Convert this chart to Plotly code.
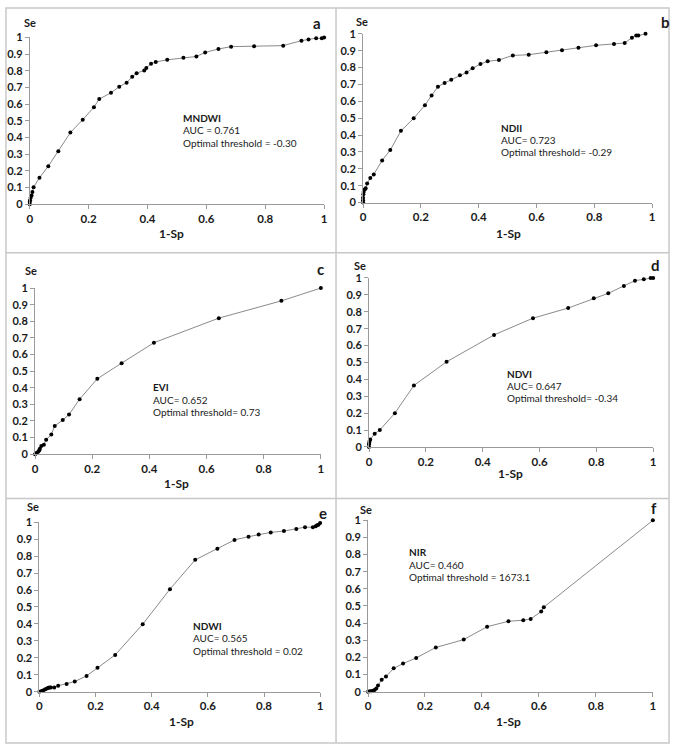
import plotly.graph_objects as go

W, H = 675, 754

# ---------------- data (1-Sp, Se) ----------------
mndwi_x = [0, 0, 0.001, 0.003, 0.006, 0.009, 0.013, 0.033, 0.063, 0.097, 0.138, 0.180, 0.218, 0.236,
           0.276, 0.304, 0.329, 0.348, 0.363, 0.389, 0.396, 0.412, 0.428, 0.467, 0.522, 0.566, 0.596,
           0.641, 0.684, 0.762, 0.861, 0.923, 0.947, 0.973, 0.992, 1.0]
mndwi_y = [0, 0.014, 0.024, 0.039, 0.053, 0.073, 0.102, 0.159, 0.228, 0.318, 0.430, 0.507, 0.582, 0.631,
           0.668, 0.705, 0.729, 0.764, 0.786, 0.802, 0.817, 0.843, 0.853, 0.866, 0.878, 0.886, 0.910,
           0.931, 0.945, 0.947, 0.951, 0.981, 0.988, 0.996, 0.996, 1.0]

ndii_x = [0, 0, 0, 0.001, 0.002, 0.006, 0.009, 0.014, 0.025, 0.037, 0.066, 0.094, 0.131, 0.175, 0.214,
          0.237, 0.259, 0.282, 0.305, 0.335, 0.358, 0.379, 0.406, 0.431, 0.470, 0.518, 0.573, 0.634,
          0.688, 0.745, 0.806, 0.868, 0.905, 0.930, 0.945, 0.952, 0.977]
ndii_y = [0, 0.014, 0.029, 0.049, 0.062, 0.078, 0.085, 0.113, 0.146, 0.167, 0.250, 0.311, 0.425, 0.499,
          0.577, 0.635, 0.687, 0.709, 0.728, 0.755, 0.771, 0.796, 0.821, 0.837, 0.845, 0.872, 0.876,
          0.891, 0.903, 0.918, 0.932, 0.940, 0.946, 0.977, 0.990, 0.990, 1.0]

evi_x = [0, 0.003, 0.007, 0.012, 0.015, 0.017, 0.022, 0.031, 0.039, 0.057, 0.069, 0.097, 0.119, 0.156,
         0.218, 0.303, 0.416, 0.643, 0.862, 1.0]
evi_y = [0, 0.004, 0.008, 0.016, 0.024, 0.032, 0.049, 0.057, 0.087, 0.118, 0.170, 0.205, 0.239, 0.331,
         0.454, 0.548, 0.671, 0.819, 0.923, 1.0]

ndvi_x = [0, 0, 0.001, 0.002, 0.004, 0.020, 0.038, 0.091, 0.158, 0.273, 0.440, 0.577, 0.701, 0.791,
          0.842, 0.897, 0.936, 0.967, 0.991, 1.0]
ndvi_y = [0, 0.016, 0.025, 0.035, 0.045, 0.078, 0.101, 0.200, 0.364, 0.504, 0.663, 0.762, 0.822, 0.880,
          0.909, 0.953, 0.984, 0.992, 1.0, 1.0]

ndwi_x = [0, 0.008, 0.015, 0.021, 0.027, 0.032, 0.037, 0.041, 0.053, 0.067, 0.097, 0.126, 0.168, 0.207,
          0.270, 0.368, 0.465, 0.555, 0.634, 0.695, 0.745, 0.781, 0.824, 0.871, 0.915, 0.946, 0.974,
          0.984, 0.989, 0.994, 1.0]
ndwi_y = [0, 0.004, 0.008, 0.014, 0.019, 0.023, 0.025, 0.025, 0.025, 0.035, 0.046, 0.060, 0.093, 0.141,
          0.217, 0.398, 0.605, 0.778, 0.843, 0.896, 0.915, 0.928, 0.940, 0.948, 0.960, 0.971, 0.971,
          0.977, 0.983, 0.986, 0.996]

nir_x = [0, 0.006, 0.012, 0.017, 0.023, 0.029, 0.035, 0.048, 0.063, 0.090, 0.123, 0.169, 0.238, 0.336,
         0.418, 0.493, 0.545, 0.571, 0.608, 0.617, 1.0]
nir_y = [0, 0.002, 0.002, 0.006, 0.010, 0.019, 0.036, 0.069, 0.088, 0.136, 0.164, 0.197, 0.258, 0.304,
         0.379, 0.411, 0.417, 0.424, 0.468, 0.493, 1.0]

series_x = [mndwi_x, ndii_x, evi_x, ndvi_x, ndwi_x, nir_x]
series_y = [mndwi_y, ndii_y, evi_y, ndvi_y, ndwi_y, nir_y]
index_names = ["MNDWI", "NDII", "EVI", "NDVI", "NDWI", "NIR"]
auc_labels = ["AUC = 0.761", "AUC= 0.723", "AUC= 0.652", "AUC= 0.647", "AUC= 0.565", "AUC= 0.460"]
threshold_labels = ["Optimal threshold = -0.30", "Optimal threshold= -0.29", "Optimal threshold= 0.73",
                    "Optimal threshold= -0.34", "Optimal threshold = 0.02", "Optimal threshold = 1673.1"]
panel_letters = ["a", "b", "c", "d", "e", "f"]
x_tick_vals = [0, 0.2, 0.4, 0.6, 0.8, 1]
y_tick_vals = [0, 0.1, 0.2, 0.3, 0.4, 0.5, 0.6, 0.7, 0.8, 0.9, 1]
x_title = "1-Sp"
y_title = "Se"

# ---------------- layout geometry (pixels) ----------------
# plot boxes: left, right, top, bottom
boxes = [(27, 324, 31, 200.7), (363.3, 655, 27.3, 199),
         (32.3, 320.7, 286, 455), (369.3, 656, 275.7, 447.7),
         (36.7, 320, 524.3, 696.7), (368.3, 655.7, 522.3, 696.7)]
se_pos = [(27, 16), (362, 15), (28, 268), (360, 263.5), (30, 508), (366.7, 511)]
letter_pos = [(317, 16), (668, 15), (320, 267), (658, 263), (323, 515), (656.7, 510)]
sp_pos = [(170, 230), (510, 230), (175, 485), (512, 475), (180, 727), (510, 727)]
text_pos = [(180, 113), (500, 123), (149, 387), (507, 373), (190, 630), (408, 555)]
line_gap = 12.5

def px(x):
    return x / W

def py(y):
    return 1 - y / H

FONT = "Lato, 'Open Sans', sans-serif"
TXT = "#1a1a1a"

fig = go.Figure()
annotations = []
layout = dict(width=W, height=H, margin=dict(l=0, r=0, t=0, b=0),
              paper_bgcolor="white", plot_bgcolor="white", showlegend=False,
              font=dict(family=FONT, color=TXT))

def note(text, x, y, size, xanchor="center"):
    return dict(text=text, x=px(x), y=py(y), xref="paper", yref="paper",
                xanchor=xanchor, yanchor="middle", showarrow=False,
                font=dict(size=size, family=FONT, color=TXT))

for i in range(6):
    n = "" if i == 0 else str(i + 1)
    fig.add_trace(go.Scatter(
        x=series_x[i], y=series_y[i], mode="lines+markers",
        line=dict(color="#8a8a8a", width=1),
        marker=dict(color="black", size=4, symbol="circle"),
        cliponaxis=False, xaxis="x" + n, yaxis="y" + n, hoverinfo="x+y"))
    l, r, t, b = boxes[i]
    layout["xaxis" + n] = dict(domain=[px(l), px(r)], range=[0, 1], anchor="y" + n,
                               tickvals=x_tick_vals, ticks="outside", ticklen=4,
                               tickcolor="#9a9a9a", showline=True, linecolor="#9a9a9a",
                               linewidth=1, showgrid=False, zeroline=False,
                               tickfont=dict(family=FONT, size=11.5, color=TXT, weight="bold"))
    layout["yaxis" + n] = dict(domain=[py(b), py(t)], range=[0, 1], anchor="x" + n,
                               tickvals=y_tick_vals, ticks="outside", ticklen=4,
                               tickcolor="#9a9a9a", showline=True, linecolor="#9a9a9a",
                               linewidth=1, showgrid=False, zeroline=False,
                               tickfont=dict(family=FONT, size=11, color=TXT, weight="bold"))
    sx, sy = se_pos[i]
    annotations.append(note("<b>" + y_title + "</b>", sx, sy, 11))
    lx, ly = letter_pos[i]
    annotations.append(note("<b>" + panel_letters[i] + "</b>", lx, ly, 15))
    ax_, ay_ = sp_pos[i]
    annotations.append(note("<b>" + x_title + "</b>", ax_, ay_, 12))
    tx, ty = text_pos[i]
    lines = ["<b>" + index_names[i] + "</b>", auc_labels[i], threshold_labels[i]]
    for k, s in enumerate(lines):
        annotations.append(note(s, tx, ty + k * line_gap, 10, xanchor="left"))

shapes = [
    dict(type="rect", xref="paper", yref="paper", x0=px(3), x1=px(672), y0=py(749), y1=py(1),
         line=dict(color="#c8c8c8", width=1.5)),
    dict(type="line", xref="paper", yref="paper", x0=px(336), x1=px(336), y0=py(749), y1=py(1),
         line=dict(color="#c8c8c8", width=1.5)),
    dict(type="line", xref="paper", yref="paper", x0=px(3), x1=px(672), y0=py(250), y1=py(250),
         line=dict(color="#c8c8c8", width=1.5)),
    dict(type="line", xref="paper", yref="paper", x0=px(3), x1=px(672), y0=py(500), y1=py(500),
         line=dict(color="#c8c8c8", width=1.5)),
]
layout["annotations"] = annotations
layout["shapes"] = shapes
fig.update_layout(**layout)
fig.write_html("out.html", config={"displayModeBar": False},
               post_script="document.body.style.margin='0';document.body.style.overflow='hidden';")
